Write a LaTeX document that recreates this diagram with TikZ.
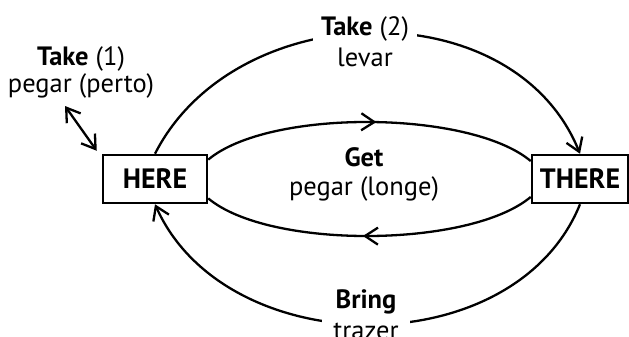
\documentclass[tikz,border=0pt]{standalone}
\usepackage{fontspec}
\setmainfont{PT Sans}
\usetikzlibrary{arrows.meta,decorations.markings}

\tikzset{
  place/.style={draw, line width=2.5pt, fill=white, minimum height=48pt, inner sep=0pt,
    font=\fontsize{28}{32}\selectfont\bfseries},
  word/.style={fill=white, align=center, inner xsep=8pt, inner ysep=0pt,
    font=\fontsize{26.5}{29}\selectfont},
  barb/.style={-{Straight Barb[length=13pt,width=17pt]}},
  midbarb/.style={postaction={decorate}, decoration={markings,
    mark=at position #1 with {\arrow{Straight Barb[length=13pt,width=17pt]}}}},
}

\begin{document}
\begin{tikzpicture}[x=1pt, y=1pt, line width=2.3pt]
\useasboundingbox (0,0) rectangle (629,-337);
\node[place, minimum width=104pt] (here) at (155,-179) {HERE};
\node[place, minimum width=96pt] (there) at (580,-179) {THERE};

\draw[barb] (here.north) to[out=63, in=112, looseness=1.07] (there.north);
\draw[barb] (there.south) to[out=-112, in=-66, looseness=1.05] (here.south);
\draw[midbarb=0.52] (here.20) to[out=40, in=140, looseness=0.63] (there.160);
\draw[midbarb=0.52] (there.-160) to[out=-140, in=-40, looseness=0.63] (here.-20);

\node[word] (take2) at (365,-42) {\textbf{Take} (2)\\[2pt]levar};
\node[word] (get) at (364,-174) {\textbf{Get}\\pegar (longe)};
\node[word, inner xsep=11pt] (bring) at (366,-315) {\textbf{Bring}\\[2pt]trazer};
\node[word] (take1) at (81,-72) {\textbf{Take} (1)\\[-2pt]pegar (perto)};

\coordinate (t1) at (65,-106);
\draw[{Straight Barb[length=13pt,width=17pt]}-{Straight Barb[length=13pt,width=17pt]}]
  (t1) -- ([xshift=-5pt,yshift=3pt]here.north west);
\end{tikzpicture}
\end{document}
